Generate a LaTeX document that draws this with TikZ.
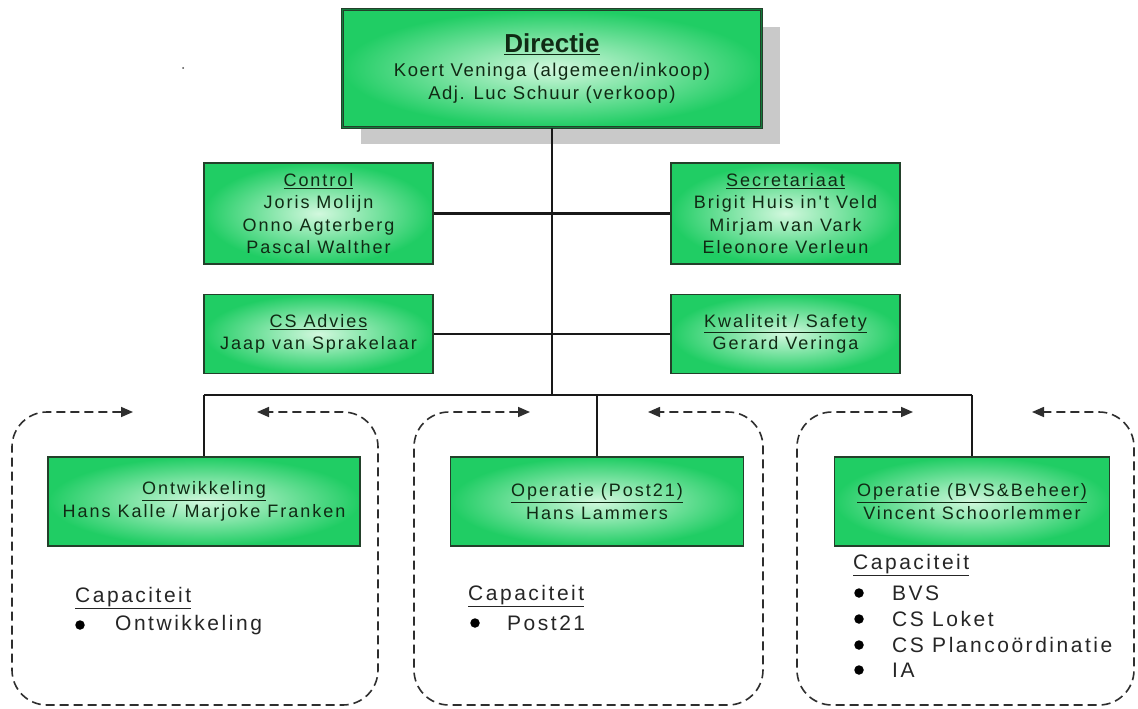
\documentclass[tikz,border=0pt]{standalone}
\usepackage{fontspec}
\setmainfont{Liberation Sans}
\newfontfamily\bx{Liberation Sans}[LetterSpace=11]
\newfontfamily\bxd{Liberation Sans}[LetterSpace=8]
\newfontfamily\bxw{Liberation Sans}[LetterSpace=12]
\usetikzlibrary{arrows.meta}
\definecolor{gin}{HTML}{D2F8DE}
\definecolor{gout}{HTML}{20CD64}
\definecolor{bord}{HTML}{23402A}
\definecolor{txt}{HTML}{102A14}
\definecolor{shad}{HTML}{C9C9C9}
\definecolor{dashc}{HTML}{2E2E2E}
\begin{document}
\begin{tikzpicture}[x=1pt,y=-1pt,
 gbox/.style={draw=bord, line width=1.1pt, inner color=gin, outer color=gout, align=center, text=txt, font=\bx\fontsize{18}{22.5}\selectfont, inner sep=0pt},
 conn/.style={draw=black!90, line width=2.2pt},
 dbox/.style={draw=dashc, line width=1.6pt, dash pattern=on 9pt off 5pt, rounded corners=35pt, {Triangle[length=12pt,width=10pt]}-{Triangle[length=12pt,width=10pt]}},
 captxt/.style={anchor=west, text=black!85, font=\bxw\fontsize{21}{25}\selectfont, inner sep=0pt},
 blt/.style={circle, fill=black, inner sep=0pt, minimum size=9.5pt}
]
\useasboundingbox (0,0) rectangle (1138,709);
\fill[white] (0,0) rectangle (1138,709);
\fill[black!70] (183,68) circle (1pt);

% Directie
\fill[shad] (361,27) rectangle (780,144);
\node[gbox, minimum width=419pt, minimum height=117pt, draw=bord, double=gout!60!black, double distance=1pt, line width=1pt, font=\bxd\fontsize{18.5}{23}\selectfont] (dir) at (552,68.5)
 {{\rmfamily\fontsize{26}{30}\selectfont\bfseries\underline{Directie}}\\[1pt]Koert Veninga (algemeen/inkoop)\\Adj. Luc Schuur (verkoop)};

% staff boxes
\node[gbox, minimum width=229pt, minimum height=101pt] (ctrl) at (318.5,213.5)
 {\underline{Control}\\Joris Molijn\\Onno Agterberg\\Pascal Walther};
\node[gbox, minimum width=229pt, minimum height=101pt] (sec) at (785.5,213.5)
 {\underline{Secretariaat}\\Brigit Huis in't Veld\\Mirjam van Vark\\Eleonore Verleun};
\node[gbox, minimum width=229pt, minimum height=79pt] (csa) at (318.5,334)
 {\underline{CS Advies}\\Jaap van Sprakelaar};
\node[gbox, minimum width=229pt, minimum height=79pt] (kwa) at (785.5,334)
 {\underline{Kwaliteit / Safety}\\Gerard Veringa};

% line units
\node[gbox, minimum width=312pt, minimum height=89pt] (ont) at (204,501.5)
 {\underline{Ontwikkeling}\\Hans Kalle / Marjoke Franken};
\node[gbox, minimum width=293pt, minimum height=89pt] (post) at (597,501.5)
 {\underline{Operatie (Post21)}\\Hans Lammers};
\node[gbox, minimum width=275pt, minimum height=89pt] (bvs) at (972,501.5)
 {\underline{Operatie (BVS\&Beheer)}\\Vincent Schoorlemmer};

% connectors
\coordinate (spine) at (552,395);
\coordinate (barL) at (204,395);
\coordinate (barM) at (597,395);
\coordinate (barR) at (972,395);
\draw[conn, line width=2.8pt] (dir.south) -- (spine);
\draw[conn] (barL) -- (barR);
\draw[conn] (barL) -- (ont.north);
\draw[conn] (barM) -- (post.north);
\draw[conn] (barR) -- (bvs.north);
\draw[conn] (ctrl.east) -- (ctrl.east -| spine);
\draw[conn] (sec.west) -- (sec.west -| spine);
\draw[conn] (csa.east) -- (csa.east -| spine);
\draw[conn] (kwa.west) -- (kwa.west -| spine);

% dashed groups
\draw[dbox] (133,412) -- (12,412) -- (12,705) -- (378,705) -- (378,412) -- (257,412);
\draw[dbox] (530,412) -- (414,412) -- (414,705) -- (763,705) -- (763,412) -- (648,412);
\draw[dbox] (913,412) -- (797,412) -- (797,705) -- (1134,705) -- (1134,412) -- (1032,412);

% capacity lists
\node[captxt] (c1) at (75,598) {\underline{Capaciteit}};
\node[blt] (b11) at (80,625) {};
\node[captxt] (t11) at (115,625) {Ontwikkeling};

\node[captxt] (c2) at (468,596) {\underline{Capaciteit}};
\node[blt] (b21) at (475,623) {};
\node[captxt] (t21) at (507,623) {Post21};

\node[captxt] (c3) at (853,565) {\underline{Capaciteit}};
\node[blt] (b31) at (859,593) {};
\node[captxt] (t31) at (892,593) {BVS};
\node[blt] (b32) at (859,619) {};
\node[captxt] (t32) at (892,619) {CS Loket};
\node[blt] (b33) at (859,645) {};
\node[captxt] (t33) at (892,645) {CS Plancoördinatie};
\node[blt] (b34) at (859,670) {};
\node[captxt] (t34) at (892,670) {IA};
\end{tikzpicture}
\end{document}
